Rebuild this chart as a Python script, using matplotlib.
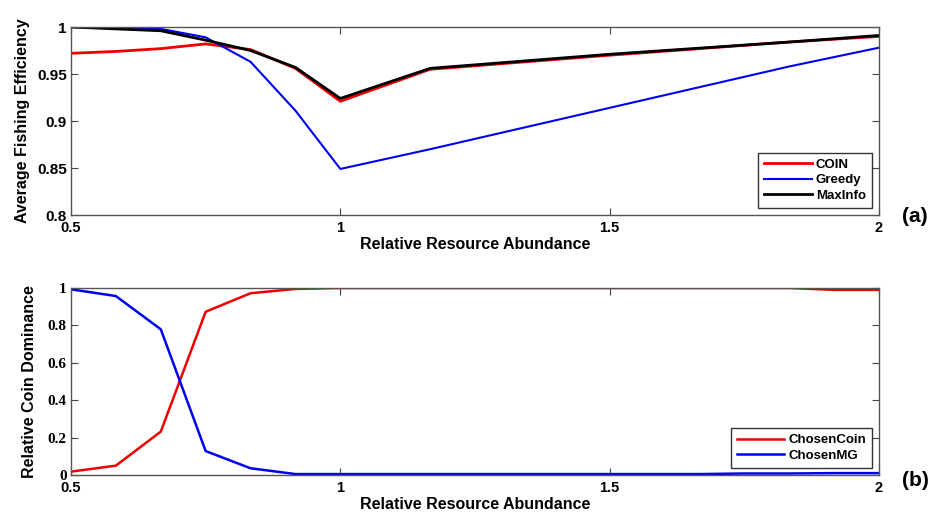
import numpy as np
import matplotlib
matplotlib.use("Agg")
import matplotlib.pyplot as plt

# %% datos
x_top = [0.5, 0.5833, 0.6667, 0.75, 0.8333, 0.9167, 1.0, 1.1667, 1.5, 1.8333, 2.0]
coin = [0.972, 0.974, 0.977, 0.982, 0.976, 0.956, 0.921, 0.955, 0.970, 0.984, 0.990]
greedy = [1.000, 0.999, 0.998, 0.989, 0.963, 0.911, 0.849, 0.870, 0.914, 0.958, 0.978]
maxinfo = [1.000, 0.998, 0.996, 0.986, 0.975, 0.957, 0.924, 0.956, 0.971, 0.984, 0.991]

x_bot = [0.5, 0.5833, 0.6667, 0.75, 0.8333, 0.9167, 1.0, 1.0833, 1.1667, 1.25,
         1.3333, 1.4167, 1.5, 1.5833, 1.6667, 1.75, 1.8333, 1.9167, 2.0]
chosen_coin = [0.018, 0.050, 0.232, 0.873, 0.972, 0.995, 1.0, 1.0, 1.0, 1.0,
               1.0, 1.0, 1.0, 1.0, 1.0, 1.0, 1.0, 0.99, 0.99]
chosen_mg = [0.993, 0.957, 0.779, 0.128, 0.036, 0.005, 0.005, 0.005, 0.005, 0.005,
             0.005, 0.005, 0.005, 0.005, 0.005, 0.008, 0.008, 0.01, 0.01]

xticks = [0.5, 1, 1.5, 2]
xticklabels = ['0.5', '1', '1.5', '2']
yticks_top = [0.8, 0.85, 0.9, 0.95, 1]
yticklabels_top = ['0.8', '0.85', '0.9', '0.95', '1']
yticks_bot = [0, 0.2, 0.4, 0.6, 0.8, 1]
yticklabels_bot = ['0', '0.2', '0.4', '0.6', '0.8', '1']

# %% figura
plt.rcParams['font.family'] = ['Liberation Sans', 'DejaVu Sans']
W, H = 934, 517
fig = plt.figure(figsize=(W / 100, H / 100), dpi=100)


def caja(px_left, px_top, px_right, px_bottom):
    return [px_left / W, 1 - px_bottom / H, (px_right - px_left) / W, (px_bottom - px_top) / H]


def estilo(ax, yticks, ylabels, yfont):
    ax.set_xlim(0.5, 2)
    ax.set_xticks(xticks)
    ax.set_xticklabels(xticklabels, fontsize=10.5, fontweight='bold')
    ax.set_yticks(yticks)
    ax.set_yticklabels(ylabels, fontsize=11, fontweight='bold', family=yfont)
    ax.tick_params(direction='in', top=True, right=True, length=5, width=0.8,
                   color='#444444')
    ax.tick_params(axis='x', pad=4.5)
    ax.tick_params(axis='y', pad=3)
    for s in ax.spines.values():
        s.set_linewidth(1.0)
        s.set_color('#555555')


def leyenda(ax):
    leg = ax.legend(loc='lower right', prop={'weight': 'bold', 'size': 9.5},
                    fancybox=False, edgecolor='#333333', framealpha=1, borderaxespad=0.55,
                    handlelength=3.6, labelspacing=0.25, borderpad=0.45, handletextpad=0.3)
    leg.get_frame().set_linewidth(1.0)
    return leg


# panel (a)
ax1 = fig.add_axes(caja(71, 27, 879, 215))
ax1.plot(x_top, coin, color='#ee0000', lw=2, label='COIN')
ax1.plot(x_top, greedy, color='#0000ee', lw=1.5, label='Greedy')
ax1.plot(x_top, maxinfo, color='black', lw=2, label='MaxInfo')
ax1.set_ylim(0.8, 1)
estilo(ax1, yticks_top, yticklabels_top, ['Liberation Sans'])
ax1.set_xlabel('Relative Resource Abundance', fontsize=11.5, fontweight='bold', labelpad=1)
ax1.set_ylabel('Average Fishing Efficiency', fontsize=11.5, fontweight='bold')
ax1.yaxis.set_label_coords(-41 / 808, 0.5)
leyenda(ax1)
fig.text(915 / W, 1 - 216 / H, '(a)', fontsize=15, fontweight='bold', ha='center', va='center')

# panel (b)
ax2 = fig.add_axes(caja(71, 288, 879, 475))
ax2.plot(x_bot, chosen_coin, color='#ee0000', lw=1.8, label='ChosenCoin')
ax2.plot(x_bot, chosen_mg, color='#0000ee', lw=1.8, label='ChosenMG')
ax2.set_ylim(0, 1)
estilo(ax2, yticks_bot, yticklabels_bot, ['Liberation Serif'])
ax2.set_xlabel('Relative Resource Abundance', fontsize=11.5, fontweight='bold', labelpad=1)
ax2.set_ylabel('Relative Coin Dominance', fontsize=11.5, fontweight='bold')
ax2.yaxis.set_label_coords(-34 / 808, 0.5)
leyenda(ax2)
fig.text(915 / W, 1 - 481 / H, '(b)', fontsize=15, fontweight='bold', ha='center', va='center')

fig.savefig('out.png', dpi=100)
